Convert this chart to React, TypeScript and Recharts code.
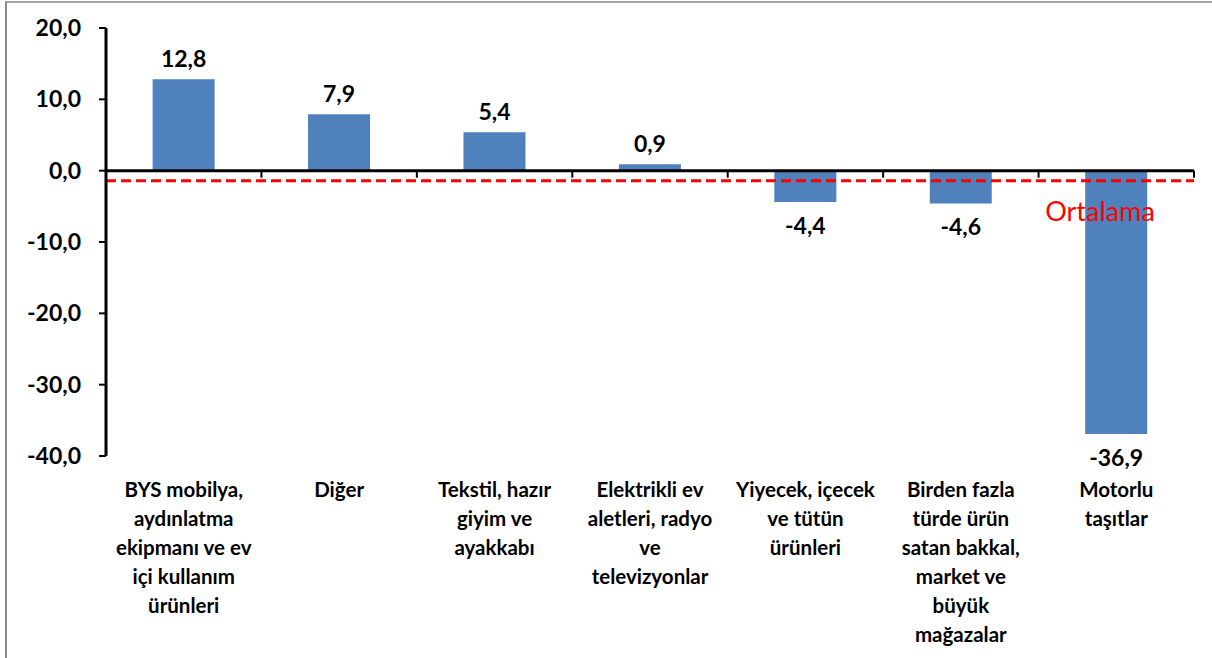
import React from 'react';
import { BarChart, Bar, XAxis, YAxis, ReferenceLine, LabelList } from 'recharts';

// Sector names (line breaks as in the source chart)
const CATEGORIES = [
  'BYS mobilya,\naydınlatma\nekipmanı ve ev\niçi kullanım\nürünleri',
  'Diğer',
  'Tekstil, hazır\ngiyim ve\nayakkabı',
  'Elektrikli ev\naletleri, radyo\nve\ntelevizyonlar',
  'Yiyecek, içecek\nve tütün\nürünleri',
  'Birden fazla\ntürde ürün\nsatan bakkal,\nmarket ve\nbüyük\nmağazalar',
  'Motorlu\ntaşıtlar',
];
const VALUES = [12.8, 7.9, 5.4, 0.9, -4.4, -4.6, -36.9];
const Y_TICKS = [-40, -30, -20, -10, 0, 10, 20];
const AVERAGE = -1.4;
const AVERAGE_LABEL = 'Ortalama';

const data = CATEGORIES.map((name, i) => ({ name, value: VALUES[i] }));

const FONT = 'Lato, "Open Sans", sans-serif';
const BAR_COLOR = '#4F81BD';

const fmt = (v: number) => v.toFixed(1).replace('.', ',');

function CategoryTick(props: any) {
  const { x, y, payload } = props;
  const lines = String(payload.value).split('\n');
  return (
    <text x={x} y={y} textAnchor="middle" fontFamily={FONT} fontWeight={700} fontSize={20.5} fill="#000">
      {lines.map((line, i) => (
        <tspan key={i} x={x} dy={i === 0 ? 39 : 29}>
          {line}
        </tspan>
      ))}
    </text>
  );
}

function ValueLabel(props: any) {
  const { x, y, width, height, value } = props;
  const top = Math.min(y, y + height);
  const bottom = Math.max(y, y + height);
  const cy = value >= 0 ? top - 21 : bottom + 23;
  return (
    <text
      x={x + width / 2}
      y={cy}
      textAnchor="middle"
      dominantBaseline="central"
      fontFamily={FONT}
      fontWeight={700}
      fontSize={23}
      fill="#000"
    >
      {fmt(value)}
    </text>
  );
}

// zero line with the category boundary ticks hanging below it
function ZeroAxis(props: any) {
  const { x1, y1, x2 } = props;
  const step = (x2 - x1) / CATEGORIES.length;
  return (
    <g>
      <line x1={x1} y1={y1} x2={x2} y2={y1} stroke="#000" strokeWidth={3} />
      {CATEGORIES.map((_, i) => (
        <line
          key={i}
          x1={x1 + step * (i + 1)}
          x2={x1 + step * (i + 1)}
          y1={y1}
          y2={y1 + 7}
          stroke="#000"
          strokeWidth={2}
        />
      ))}
    </g>
  );
}

function AverageLabel(props: any) {
  const { viewBox } = props;
  return (
    <text
      x={viewBox.x + viewBox.width - 94}
      y={viewBox.y + 30}
      textAnchor="middle"
      dominantBaseline="central"
      fontFamily={FONT}
      fontSize={27}
      fill="#FF0000"
    >
      {AVERAGE_LABEL}
    </text>
  );
}

export default function App() {
  return (
    <div
      style={{
        position: 'absolute',
        left: 0,
        top: 0,
        width: 1212,
        height: 658,
        background: '#fff',
        overflow: 'hidden',
      }}
    >
      <div
        style={{
          position: 'absolute',
          left: 5,
          top: 1,
          width: 1220,
          height: 700,
          borderLeft: '2px solid #8c8c8c',
          borderTop: '2px solid #a6a6a6',
        }}
      />
      <BarChart
        width={1212}
        height={658}
        data={data}
        margin={{ top: 28, right: 18, left: 0, bottom: 0 }}
        barCategoryGap="30%"
      >
        <YAxis
          width={106}
          domain={[-40, 20]}
          ticks={Y_TICKS}
          interval={0}
          tickFormatter={fmt}
          axisLine={{ stroke: '#000', strokeWidth: 3 }}
          tickLine={{ stroke: '#000', strokeWidth: 2 }}
          tickSize={7}
          tickMargin={18}
          tick={{ fill: '#000', fontFamily: FONT, fontWeight: 700, fontSize: 23 }}
        />
        <XAxis
          dataKey="name"
          height={202}
          interval={0}
          axisLine={false}
          tickLine={false}
          tickSize={0}
          tick={<CategoryTick />}
        />
        <Bar dataKey="value" fill={BAR_COLOR} isAnimationActive={false}>
          <LabelList dataKey="value" content={<ValueLabel />} />
        </Bar>
        <ReferenceLine y={0} shape={<ZeroAxis />} />
        <ReferenceLine
          y={AVERAGE}
          stroke="#FF0000"
          strokeWidth={3}
          strokeDasharray="10 5"
          label={<AverageLabel />}
        />
      </BarChart>
    </div>
  );
}
